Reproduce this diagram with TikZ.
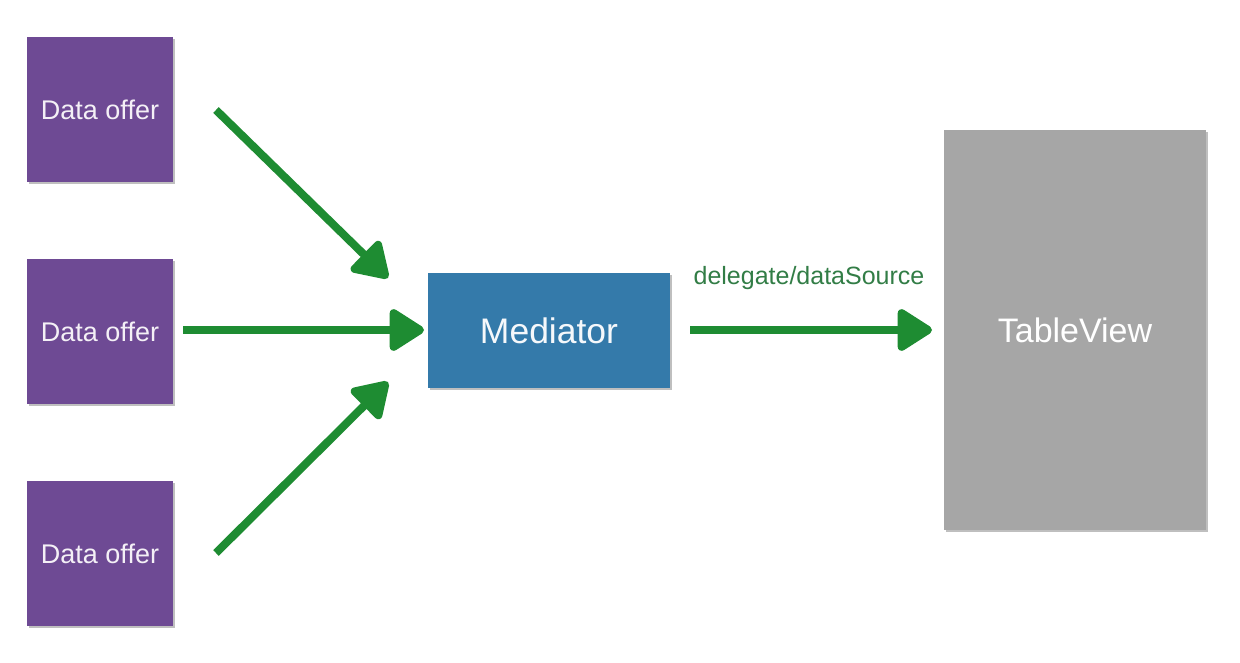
\documentclass[tikz,border=0pt]{standalone}
\usepackage{fontspec}
\setmainfont{Liberation Sans}
\usetikzlibrary{arrows.meta,shadows}
\definecolor{offerpurple}{RGB}{110,74,148}
\definecolor{medblue}{RGB}{52,122,170}
\definecolor{tvgrey}{RGB}{166,166,166}
\definecolor{arrgreen}{RGB}{30,140,50}
\definecolor{lblgreen}{RGB}{50,125,70}
\begin{document}
\begin{tikzpicture}[x=1pt,y=-1pt,
  boxbase/.style={rectangle, inner sep=0pt, draw=none,
    drop shadow={shadow xshift=2pt, shadow yshift=-2pt, opacity=0.25, fill=black}},
  offerbox/.style={boxbase, fill=offerpurple, minimum width=146pt, minimum height=145pt,
    text=white!92!offerpurple, font=\fontsize{27}{31}\selectfont},
  medbox/.style={boxbase, fill=medblue, minimum width=242pt, minimum height=115pt,
    text=white!95!medblue, font=\fontsize{35.5}{41}\selectfont},
  tvbox/.style={boxbase, fill=tvgrey, minimum width=262pt, minimum height=400pt,
    text=white, font=\fontsize{34}{40}\selectfont},
  arr/.style={draw=arrgreen, line width=8pt,
    -{Triangle[length=38pt,width=46pt,round]}, fill=arrgreen},
  lbl/.style={text=lblgreen, font=\fontsize{25}{29}\selectfont, inner sep=0pt}
]
\useasboundingbox (0,0) rectangle (1240,663);
\fill[white] (0,0) rectangle (1240,663);

\node[offerbox] (d1) at (100,109.5) {Data offer};
\node[offerbox] (d2) at (100,331.5) {Data offer};
\node[offerbox] (d3) at (100,553.5) {Data offer};
\node[medbox] (m) at (549,330.5) {Mediator};
\node[tvbox] (tv) at (1075,330) {TableView};

\coordinate (a1s) at (216,110);
\coordinate (a1e) at (388,278);
\coordinate (a2s) at (183,330);
\coordinate (a2e) at (424,330);
\coordinate (a3s) at (216,553);
\coordinate (a3e) at (388,382);
\coordinate (a4s) at (690,330);
\coordinate (a4e) at (932,330);

\draw[arr] (a1s) -- (a1e);
\draw[arr] (a2s) -- (a2e);
\draw[arr] (a3s) -- (a3e);
\draw[arr] (a4s) -- (a4e);

\node[lbl] (lab) at (809,278) {delegate/dataSource};
\end{tikzpicture}
\end{document}
